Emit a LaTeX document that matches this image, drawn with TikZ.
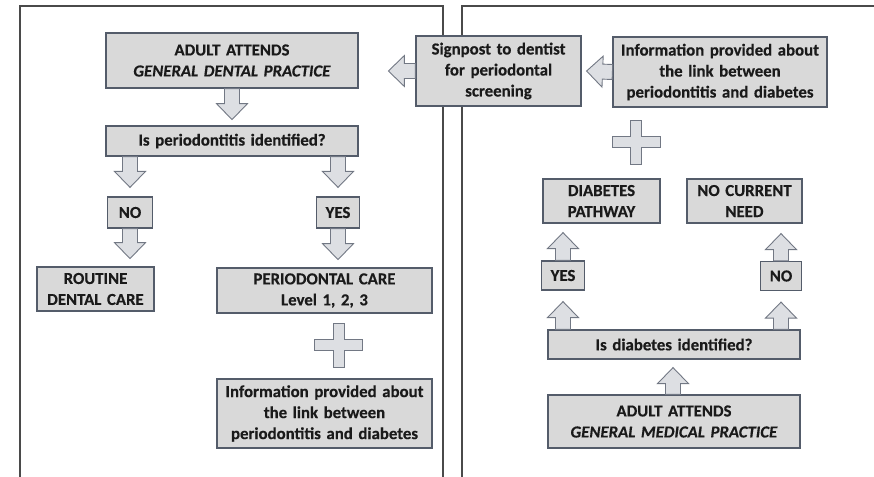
\documentclass[tikz,border=0pt]{standalone}
\usepackage{fontspec}
\setmainfont{Carlito}
\newfontfamily\boxfont{Carlito}[UprightFont={* Bold},ItalicFont={* Bold Italic},FakeBold=0.4]
\usetikzlibrary{calc}
\definecolor{boxfill}{HTML}{D9D9D9}
\definecolor{boxline}{HTML}{545C6A}
\definecolor{arrfill}{HTML}{DDDFE3}
\definecolor{arrline}{HTML}{727884}
\definecolor{frameline}{HTML}{4A4A4A}
\definecolor{txt}{HTML}{1A1A1A}
\tikzset{
  frame/.style={draw=frameline, line width=1.6pt},
  fbox/.style={draw=boxline, fill=boxfill, line width=1.2pt, align=center,
    inner sep=0pt, text=txt, font=\boxfont\fontsize{16.8}{21}\selectfont},
  blockarrow/.style={draw=arrline, fill=arrfill, line width=0.9pt, line join=miter},
}
\newcommand\bx[5]{% name, cx, cy, w, h ; text after
  \node[fbox, minimum width=#4pt, minimum height=#5pt, text width=#4pt-2pt] (#1) at (#2,#3)}
\newcommand\blkarrow[2]{%
  \draw[blockarrow] ($(#1)!7.5pt!90:(#2)$) -- ($(#2)!16pt!(#1)!7.5pt!-90:(#1)$)
   -- ($(#2)!16pt!(#1)!15.5pt!-90:(#1)$) -- (#2)
   -- ($(#2)!16pt!(#1)!15.5pt!90:(#1)$) -- ($(#2)!16pt!(#1)!7.5pt!90:(#1)$)
   -- ($(#1)!7.5pt!-90:(#2)$) -- cycle;}
\newcommand\plussign[1]{%
  \begin{scope}[shift={(#1)}]
  \draw[blockarrow] (-5.5,-22) -- (5.5,-22) -- (5.5,-5.5) -- (24,-5.5) -- (24,5.5)
    -- (5.5,5.5) -- (5.5,22) -- (-5.5,22) -- (-5.5,5.5) -- (-24,5.5) -- (-24,-5.5)
    -- (-5.5,-5.5) -- cycle;
  \end{scope}}
\begin{document}
\begin{tikzpicture}[x=1pt,y=-1pt]
\useasboundingbox (0,0) rectangle (874,476);
\fill[white] (0,0) rectangle (874,476);
% panel frames
\draw[frame] (20,477) -- (20,6) -- (443,6) -- (443,477);
\draw[frame] (462,477) -- (462,6) -- (875,6);
% left panel boxes
\bx{adultd}{232}{60.5}{252}{55} {ADULT ATTENDS\\\textit{GENERAL DENTAL PRACTICE}};
\bx{qperio}{232}{141}{252}{30} {Is periodontitis identified?};
\bx{nol}{130}{212.5}{45}{31} {NO};
\bx{yesl}{338}{212.5}{43}{31} {YES};
\bx{routine}{95.5}{289}{117}{44} {ROUTINE\\DENTAL CARE};
\bx{pcare}{324.5}{290.5}{215}{45} {PERIODONTAL CARE\\Level 1, 2, 3};
\bx{infol}{324.5}{413.5}{215}{69} {Information provided about\\the link between\\periodontitis and diabetes};
% right panel boxes
\bx{signpost}{498.5}{71}{165}{70} {Signpost to dentist\\for periodontal\\screening};
\bx{infor}{720}{72}{214}{70} {Information provided about\\the link between\\periodontitis and diabetes};
\bx{diab}{601.5}{201}{117}{44} {DIABETES\\PATHWAY};
\bx{nocur}{744.5}{201}{115}{44} {NO CURRENT\\NEED};
\bx{yesr}{563}{275.5}{43}{29} {YES};
\bx{nor}{781}{276}{41}{29} {NO};
\bx{qdiab}{674}{344.5}{252}{29} {Is diabetes identified?};
\bx{adultm}{674}{421.5}{252}{53} {ADULT ATTENDS\\\textit{GENERAL MEDICAL PRACTICE}};
% connector end points
\coordinate (t1) at ($(adultd.south)+(0pt,-31pt)$);
\coordinate (s2) at (nol |- qperio.south);
\coordinate (t2) at ($(nol.north)+(0pt,9pt)$);
\coordinate (s3) at (yesl |- qperio.south);
\coordinate (t3) at ($(yesl.north)+(0pt,9pt)$);
\coordinate (t4) at ($(nol.south)+(0pt,-30pt)$);
\coordinate (t5) at ($(yesl.south)+(0pt,-31pt)$);
\coordinate (t6) at ($(signpost.west)+(-27pt,0pt)$);
\coordinate (t7) at ($(signpost.east)+(5pt,0pt)$);
\coordinate (t8) at ($(diab.south -| yesr)+(0pt,-9pt)$);
\coordinate (t9) at ($(nocur.south -| nor)+(0pt,-10pt)$);
\coordinate (s10) at (yesr |- qdiab.north);
\coordinate (t10) at ($(yesr.south)+(0pt,-11pt)$);
\coordinate (s11) at (nor |- qdiab.north);
\coordinate (t11) at ($(nor.south)+(0pt,-11pt)$);
\coordinate (s12) at ($(adultm.north)+(-1pt,0pt)$);
\coordinate (t12) at ($(qdiab.south)+(-1pt,-8pt)$);
% block arrows
\blkarrow{adultd.south}{t1}
\blkarrow{s2}{t2}
\blkarrow{s3}{t3}
\blkarrow{nol.south}{t4}
\blkarrow{yesl.south}{t5}
\blkarrow{signpost.west}{t6}
\blkarrow{infor.west}{t7}
\blkarrow{yesr.north}{t8}
\blkarrow{nor.north}{t9}
\blkarrow{s10}{t10}
\blkarrow{s11}{t11}
\blkarrow{s12}{t12}
% plus signs
\coordinate (p1) at (338.5,345);
\coordinate (p2) at (636,142);
\plussign{p1}
\plussign{p2}
\end{tikzpicture}
\end{document}
